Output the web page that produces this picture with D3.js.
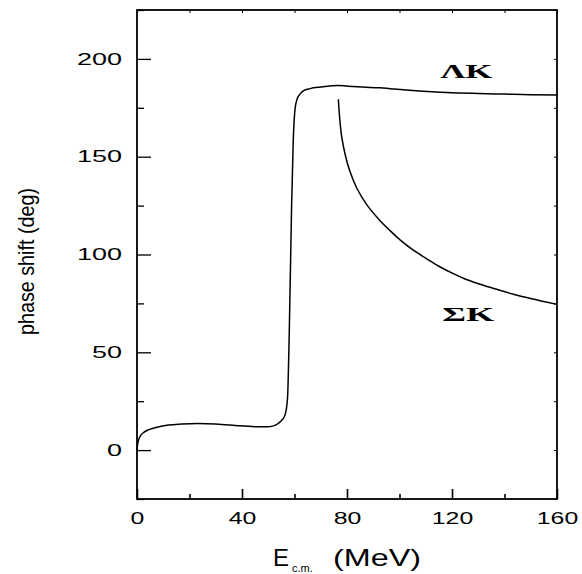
<!DOCTYPE html>
<html>
<head>
<meta charset="utf-8">
<script src="https://cdn.jsdelivr.net/npm/d3@7"></script>
<style>
  html, body { margin: 0; padding: 0; background: #fff; }
  svg { display: block; }
</style>
</head>
<body>
<svg id="chart" width="582" height="574"></svg>
<script>
// energy (MeV) / phase shift (deg)
var lambdaE = [0, 0.3, 1.1, 2.3, 4.5, 7.6, 12, 17, 22.9, 30, 39.2, 45, 49.5, 52, 53.8, 55.3, 56.4, 57.0, 57.4, 58.0, 58.9, 59.5, 60.2, 61, 62.1, 63.5, 65.9, 70, 76.7, 80, 86, 92.6, 96.4, 105, 118, 130, 140, 150, 160];
var lambdaD = [0, 3.5, 6.8, 8.7, 10.5, 11.7, 12.8, 13.3, 13.6, 13.4, 12.4, 12.0, 11.9, 12.4, 13.6, 15.5, 18, 22, 28, 59.7, 125, 157.3, 174.3, 179.5, 182, 183.8, 184.8, 185.6, 186.4, 186.1, 185.6, 185.2, 184.8, 183.9, 182.8, 182.3, 182.0, 181.7, 181.5];
var sigmaE = [76.7, 77.2, 78.0, 79.5, 81.1, 83.7, 87.5, 92.6, 96.4, 100.2, 105, 110.4, 115, 120.5, 125, 130.7, 137, 143.4, 150, 160];
var sigmaD = [179.4, 170, 160, 150, 142.5, 134, 125.5, 117.3, 112.2, 107.5, 102.5, 97.8, 94, 90.2, 87.5, 84.8, 82.2, 79.7, 77.5, 74.5];
var xMajor = [0, 40, 80, 120, 160];
var xMinor = [20, 60, 100, 140];
var yMajor = [0, 50, 100, 150, 200];
var yMinor = [-25, 25, 75, 125, 175, 225];
var curveLabels = [
  { name: "\u039BK", e: 125.5, d: 190 },
  { name: "\u03A3K", e: 126.2, d: 66 }
];

var svg = d3.select("#chart");
var x = d3.scaleLinear().domain([0, 160]).range([137, 557]);
var y = d3.scaleLinear().domain([-25, 225]).range([499, 10]);

// bottom ticks, pointing inward
svg.append("g").attr("transform", "translate(0,499)")
  .call(d3.axisBottom(x).tickValues(xMajor).tickSize(-10).tickPadding(14))
  .call(function (g) {
    g.select(".domain").remove();
    g.selectAll("line").attr("stroke", "#000").attr("stroke-width", 1.6);
    g.selectAll("text")
      .attr("font-family", "'Liberation Sans', Arial, sans-serif")
      .attr("font-size", 16).attr("fill", "#000")
      .attr("textLength", function (d) { return String(d).length * 13.8; })
      .attr("lengthAdjust", "spacingAndGlyphs");
  });
svg.append("g").attr("transform", "translate(0,499)")
  .call(d3.axisBottom(x).tickValues(xMinor).tickSize(-5).tickFormat(""))
  .call(function (g) {
    g.select(".domain").remove();
    g.selectAll("line").attr("stroke", "#000").attr("stroke-width", 1.6);
  });

// left ticks
svg.append("g").attr("transform", "translate(137,0)")
  .call(d3.axisLeft(y).tickValues(yMajor).tickSize(-14).tickPadding(15))
  .call(function (g) {
    g.select(".domain").remove();
    g.selectAll("line").attr("stroke", "#000").attr("stroke-width", 1.3);
    g.selectAll("text")
      .attr("font-family", "'Liberation Sans', Arial, sans-serif")
      .attr("font-size", 16).attr("fill", "#000")
      .attr("textLength", function (d) { return String(d).length * 15; })
      .attr("lengthAdjust", "spacingAndGlyphs");
  });
svg.append("g").attr("transform", "translate(137,0)")
  .call(d3.axisLeft(y).tickValues(yMinor).tickSize(-7).tickFormat(""))
  .call(function (g) {
    g.select(".domain").remove();
    g.selectAll("line").attr("stroke", "#000").attr("stroke-width", 1.3);
  });

// top and right: short mirror ticks
svg.append("g").attr("transform", "translate(0,10)")
  .call(d3.axisTop(x).tickValues(xMajor.concat(xMinor)).tickSize(-3).tickFormat(""))
  .call(function (g) {
    g.select(".domain").remove();
    g.selectAll("line").attr("stroke", "#000").attr("stroke-width", 1);
  });
svg.append("g").attr("transform", "translate(557,0)")
  .call(d3.axisRight(y).tickValues(yMajor.concat(yMinor)).tickSize(-3).tickFormat(""))
  .call(function (g) {
    g.select(".domain").remove();
    g.selectAll("line").attr("stroke", "#000").attr("stroke-width", 1);
  });

// frame
svg.append("rect")
  .attr("x", x(0)).attr("y", y(225))
  .attr("width", x(160) - x(0)).attr("height", y(-25) - y(225))
  .attr("fill", "none").attr("stroke", "#000").attr("stroke-width", 1.8);

// curves
var lineL = d3.line()
  .x(function (d) { return x(d[0]); })
  .y(function (d) { return y(d[1]); })
  .curve(d3.curveMonotoneX);
var lineS = d3.line()
  .x(function (d) { return x(d[0]); })
  .y(function (d) { return y(d[1]); })
  .curve(d3.curveCatmullRom.alpha(0.5));

svg.append("path")
  .datum(d3.zip(lambdaE, lambdaD))
  .attr("d", lineL)
  .attr("fill", "none").attr("stroke", "#000").attr("stroke-width", 1.5);
svg.append("path")
  .datum(d3.zip(sigmaE, sigmaD))
  .attr("d", lineS)
  .attr("fill", "none").attr("stroke", "#000").attr("stroke-width", 1.5);

svg.selectAll(".curve-label").data(curveLabels).enter().append("text")
  .attr("class", "curve-label")
  .attr("x", function (d) { return x(d.e); })
  .attr("y", function (d) { return y(d.d); })
  .attr("text-anchor", "middle")
  .attr("font-family", "'Liberation Serif', 'Times New Roman', serif")
  .attr("font-size", 18).attr("font-weight", "bold")
  .attr("textLength", 52).attr("lengthAdjust", "spacingAndGlyphs")
  .text(function (d) { return d.name; });

// axis titles
var xt = svg.append("text")
  .attr("x", 273).attr("y", 566)
  .attr("font-family", "'Liberation Sans', Arial, sans-serif")
  .attr("font-size", 24).attr("fill", "#000");
xt.append("tspan").attr("textLength", 16).attr("lengthAdjust", "spacingAndGlyphs").text("E");
xt.append("tspan").attr("font-size", 11).attr("dy", 6).attr("dx", 3).text("c.m.");
xt.append("tspan").attr("x", 333).attr("dy", -6)
  .attr("textLength", 88).attr("lengthAdjust", "spacingAndGlyphs").text("(MeV)");

svg.append("text")
  .attr("transform", "translate(33.5,261.5) rotate(-90)")
  .attr("text-anchor", "middle")
  .attr("font-family", "'Liberation Sans', Arial, sans-serif")
  .attr("font-size", 22).attr("fill", "#000")
  .attr("textLength", 147).attr("lengthAdjust", "spacingAndGlyphs")
  .text("phase shift (deg)");
</script>
</body>
</html>
